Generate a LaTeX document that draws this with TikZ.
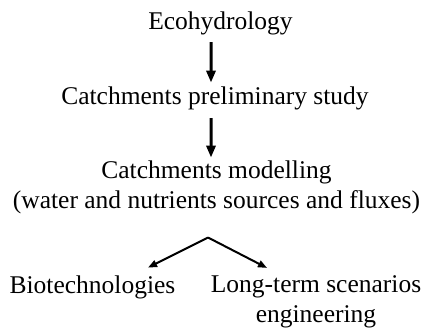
\documentclass[tikz,border=0pt]{standalone}
\usepackage{fontspec}
\setmainfont{Liberation Serif}
\usetikzlibrary{arrows.meta}
\begin{document}
\begin{tikzpicture}[x=1bp,y=-1bp,
  lbl/.style={font=\fontsize{25.5bp}{29.5bp}\selectfont, inner sep=0pt, anchor=base, align=center},
  varrow/.style={line width=3bp, -{Triangle[length=12bp,width=9bp]}},
  barrow/.style={line width=2bp, -{Triangle[length=9bp,width=7bp]}}]
\useasboundingbox (0,0) rectangle (428,330);
\node[lbl] (e) at (220.5,29) {Ecohydrology};
\node[lbl] (p) at (215,104) {Catchments preliminary study};
\node[lbl] (m) at (216.5,178) {Catchments modelling};
\node[lbl] (f) at (216.5,208) {(water and nutrients sources and fluxes)};
\node[lbl] (b) at (92.5,293) {Biotechnologies};
\node[lbl] (l) at (316,322) {Long-term scenarios\\engineering};
\coordinate (split) at (208,237.5);
\draw[varrow] ([xshift=-9.5bp,yshift=-7.5bp]e.south) -- ([xshift=-4bp,yshift=3.5bp]p.north);
\draw[varrow] ([xshift=-4bp,yshift=-8.5bp]p.south) -- ([xshift=-5.5bp,yshift=2.5bp]m.north);
\draw[barrow] (split) -- ([xshift=55.5bp,yshift=7.5bp]b.north);
\draw[barrow] (split) -- ([xshift=-49bp,yshift=7.5bp]l.north);
\end{tikzpicture}
\end{document}
